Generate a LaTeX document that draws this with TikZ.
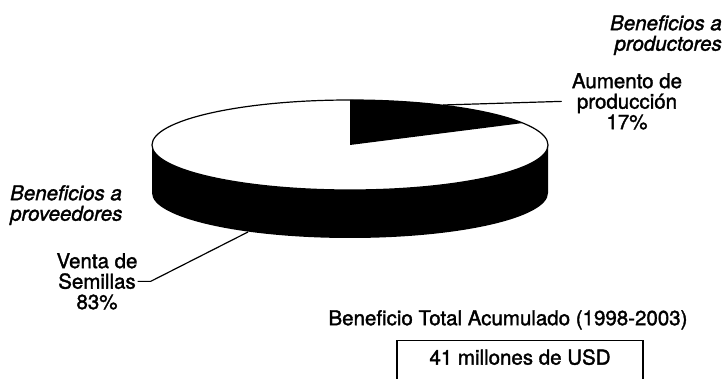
\documentclass[tikz,border=0pt]{standalone}
\usepackage{fontspec}
\setmainfont{TeX Gyre Heros}[FakeBold=1.6]
\begin{document}
\begin{tikzpicture}[x=1pt,y=1pt,
    lbl/.style={inner sep=0pt,align=center,font=\fontsize{20.5}{20.5}\selectfont},
    ital/.style={lbl,font=\fontsize{20.5}{20.5}\selectfont\itshape}]
  \useasboundingbox (0,0) rectangle (726,379);
  % side of the pie
  \fill (152,234) -- (152,186)
    arc[start angle=180,end angle=360,x radius=198,y radius=45]
    -- (548,234) arc[start angle=0,end angle=-180,x radius=198,y radius=45] -- cycle;
  % top face and the 17% slice
  \draw[line width=1.2pt,fill=white] (350,234) ellipse[x radius=198,y radius=45];
  \fill (350,234) -- (350,279)
    arc[start angle=90,end angle=29.2,x radius=198,y radius=45] -- cycle;
  \coordinate (ap) at (443,274);
  \coordinate (vs) at (248,147);
  % labels
  \node[ital,align=right,anchor=north east] (prod) at (722,364)
    {Beneficios a\\productores};
  \node[lbl,anchor=north] (aum) at (627,306) {Aumento de\\producción\\17\%};
  \node[ital,align=left,anchor=north west] (prov) at (10,194)
    {Beneficios a\\proveedores};
  \node[lbl,anchor=north] (venta) at (97,126) {Venta de\\Semillas\\83\%};
  \node[lbl,anchor=north] (total) at (508,69) {Beneficio Total Acumulado (1998-2003)};
  \node[lbl,draw,line width=1.2pt,anchor=north,minimum width=246pt,
    inner ysep=9pt,text height=15pt,text depth=30pt] (usd) at (520,39)
    {41 millones de USD};
  % leader lines
  \draw[line width=1.2pt] (ap) -- ([xshift=-10pt]aum.west);
  \draw[line width=1.2pt] (venta.east) -- ++(13,0) -- (vs);
\end{tikzpicture}
\end{document}
